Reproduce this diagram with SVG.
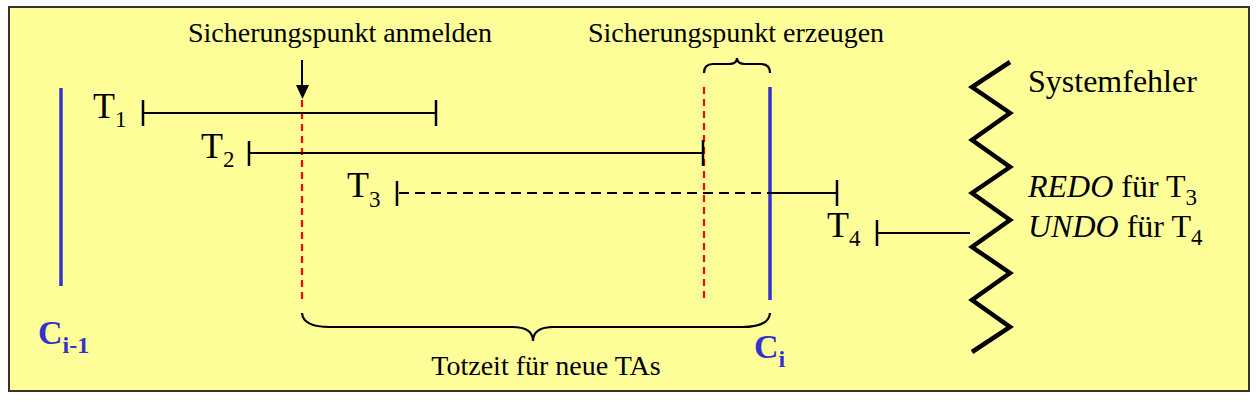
<svg xmlns="http://www.w3.org/2000/svg" width="1257" height="406" viewBox="0 0 1257 406">
<style>
text{font-family:'Liberation Serif','Tinos','Times New Roman','DejaVu Serif',serif}
.t{fill:#000}
.lbl{font-size:28px}
.big{font-size:36px}
.sub{font-size:23px}
.cl{font-weight:bold;fill:#3333CC}
.ln{stroke:#000;stroke-width:2;fill:none}
.tick{stroke:#000;stroke-width:2.5;fill:none}
.red{stroke:#FF0000;stroke-width:2.2;stroke-dasharray:7 5;fill:none}
.blue{stroke:#3333CC;stroke-width:3.5;fill:none}
.brace{stroke:#000;stroke-width:2.2;fill:none}
</style>
<rect x="9" y="7" width="1240" height="384" fill="#FFFF99" stroke="#333" stroke-width="2"/>

<g id="checkpoints">
<g id="c-prev"><line class="blue" x1="61" y1="88" x2="61" y2="286"/>
<text class="cl" x="38" y="344" font-size="34">C<tspan font-size="24" dy="9">i-1</tspan></text></g>
<g id="c-i"><line class="blue" x1="770" y1="87" x2="770" y2="300"/>
<text class="cl" x="754" y="358" font-size="34">C<tspan font-size="24" dy="9">i</tspan></text></g>
</g>

<g id="markers">
<g id="anmelden">
<text class="t lbl" x="340" y="42" text-anchor="middle">Sicherungspunkt anmelden</text>
<line x1="302" y1="60" x2="302" y2="86" stroke="#000" stroke-width="2"/>
<path d="M296,85 L309,85 L302.5,99 Z" fill="#000"/>
<line class="red" x1="302" y1="100" x2="302" y2="300"/>
</g>
<g id="erzeugen">
<text class="t lbl" x="736" y="42" text-anchor="middle">Sicherungspunkt erzeugen</text>
<path class="brace" d="M704,73 Q704,64 713,64 L729,64 Q737,64 737,58 Q737,64 745,64 L761,64 Q770,64 770,73"/>
<line class="red" x1="704" y1="87" x2="704" y2="300"/>
</g>
<g id="totzeit">
<path class="brace" d="M302,313 Q303,327 330,327 L512,327 Q533,327 533,341 Q533,327 554,327 L742,327 Q769,327 770,313"/>
<text class="t lbl" x="546" y="375" text-anchor="middle">Totzeit für neue TAs</text>
</g>
</g>

<g id="transactions">
<g id="t1">
<text class="t big" x="93" y="118">T<tspan class="sub" dy="9">1</tspan></text>
<line class="tick" x1="143" y1="100" x2="143" y2="126"/>
<line class="ln" x1="143" y1="113" x2="436" y2="113"/>
<line class="tick" x1="436" y1="100" x2="436" y2="126"/>
</g>
<g id="t2">
<text class="t big" x="201" y="158">T<tspan class="sub" dy="9">2</tspan></text>
<line class="tick" x1="249" y1="141" x2="249" y2="166"/>
<line class="ln" x1="249" y1="153" x2="703" y2="153"/>
<line class="tick" x1="703" y1="140" x2="703" y2="166"/>
</g>
<g id="t3">
<text class="t big" x="347" y="197">T<tspan class="sub" dy="10">3</tspan></text>
<line class="tick" x1="397" y1="181" x2="397" y2="206"/>
<line class="ln" x1="399" y1="193" x2="770" y2="193" stroke-dasharray="10 6"/>
<line class="ln" x1="770" y1="193" x2="837" y2="193"/>
<line class="tick" x1="837" y1="180" x2="837" y2="206"/>
</g>
<g id="t4">
<text class="t big" x="827" y="237">T<tspan class="sub" dy="9">4</tspan></text>
<line class="tick" x1="877" y1="220" x2="877" y2="246"/>
<line class="ln" x1="877" y1="233" x2="970" y2="233"/>
</g>
</g>

<g id="failure">
<polyline points="1010,62 972,87 1010,113 972,140 1010,167 972,193 1010,220 972,247 1010,273 972,300 1010,327 972,352" fill="none" stroke="#000" stroke-width="4.5" stroke-linejoin="miter"/>
<text class="t" x="1028" y="92" font-size="32">Systemfehler</text>
<text class="t" x="1028" y="197" font-size="32"><tspan font-style="italic">REDO</tspan> für T<tspan class="sub" dy="8">3</tspan></text>
<text class="t" x="1028" y="237" font-size="32"><tspan font-style="italic">UNDO</tspan> für T<tspan class="sub" dy="8">4</tspan></text>
</g>
</svg>
